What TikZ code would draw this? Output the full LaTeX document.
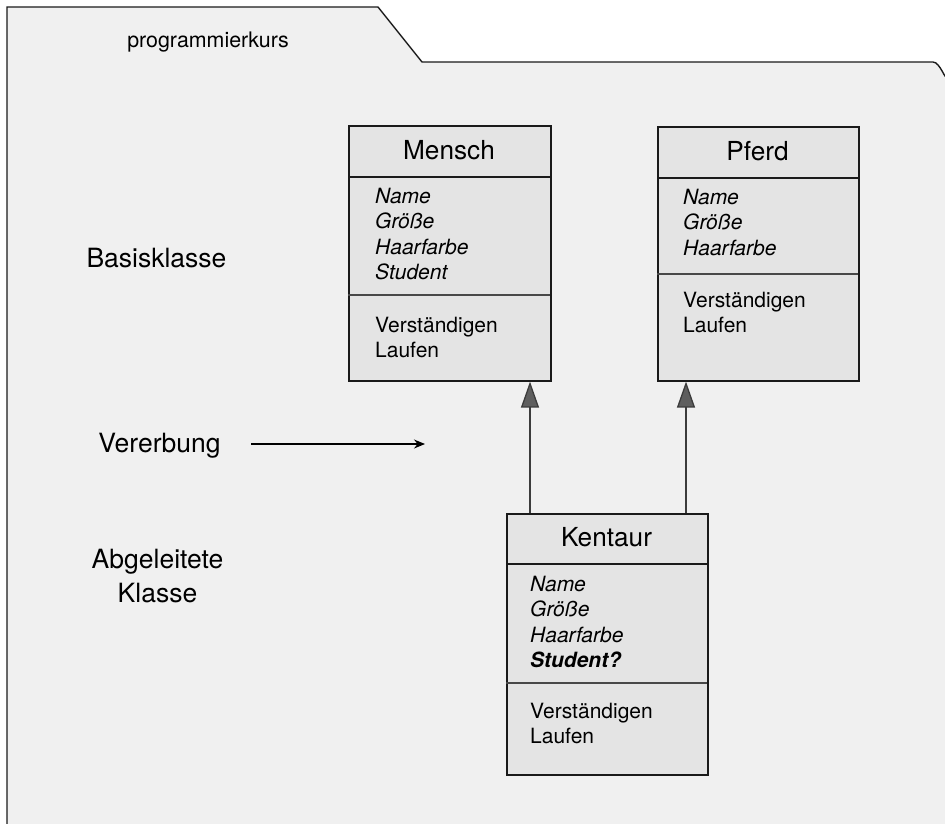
\documentclass[tikz,border=0pt]{standalone}
\usepackage{fontspec}
\setmainfont{TeX Gyre Heros}
\usetikzlibrary{arrows.meta}
\definecolor{pkgfill}{HTML}{F0F0F0}
\definecolor{boxfill}{HTML}{E4E4E4}
\definecolor{tipfill}{HTML}{5E5E5E}
\definecolor{edge}{HTML}{1A1A1A}
\tikzset{
  classbox/.style={draw=edge, fill=boxfill, line width=1.6pt, anchor=north west, inner sep=0pt},
  headline/.style={draw=edge, line width=1.9pt},
  sepline/.style={draw=edge!80, line width=1.2pt},
  classtitle/.style={anchor=base, inner sep=0pt, font=\fontsize{26.2}{30}\selectfont},
  attr/.style={anchor=base west, inner sep=0pt, font=\fontsize{21}{25}\selectfont\itshape},
  keyattr/.style={attr, font=\fontsize{21}{25}\selectfont\bfseries\itshape},
  oper/.style={anchor=base west, inner sep=0pt, font=\fontsize{21}{25}\selectfont},
  sidelabel/.style={anchor=base, inner sep=0pt, align=center, font=\fontsize{26.5}{33.4}\selectfont},
  inherit/.style={draw=edge!85, line width=1.3pt,
    -{Triangle[length=26pt, width=18pt, fill=tipfill]}},
  pointer/.style={draw=black, line width=1.3pt, -{Stealth[length=11pt, width=9pt]}}
}
\begin{document}
\begin{tikzpicture}[x=1pt, y=-1pt]
\useasboundingbox (0,0) rectangle (945,823);
\clip (0,0) rectangle (945,823);

% package frame with its tab
\draw[fill=pkgfill, draw=edge, line width=1.4pt]
  (7,900) -- (7,7) -- (378,7) -- (422,62) -- (933,62)
  to[out=0, in=-90] (946,75) -- (946,900) -- cycle;
\node[anchor=base, inner sep=0pt, font=\fontsize{21.4}{24}\selectfont] (pkg) at (208,47) {programmierkurs};

% class Mensch
\node[classbox, minimum width=202, minimum height=255] (mensch) at (348,125) {};
\draw[headline] (348,177) -- (550,177);
\draw[sepline] (348,295) -- (550,295);
\node[classtitle] (menschT) at (449,159) {Mensch};
\node[attr] (mA1) at (375,203) {Name};
\node[attr] (mA2) at (375,228.5) {Größe};
\node[attr] (mA3) at (375,254) {Haarfarbe};
\node[attr] (mA4) at (375,279.5) {Student};
\node[oper] (mO1) at (375,332) {Verständigen};
\node[oper] (mO2) at (375,357) {Laufen};

% class Pferd
\node[classbox, minimum width=201, minimum height=254] (pferd) at (657,126) {};
\draw[headline] (657,178) -- (858,178);
\draw[sepline] (657,274) -- (858,274);
\node[classtitle] (pferdT) at (757.5,160) {Pferd};
\node[attr] (pA1) at (683,204) {Name};
\node[attr] (pA2) at (683,229.5) {Größe};
\node[attr] (pA3) at (683,255) {Haarfarbe};
\node[oper] (pO1) at (683,307) {Verständigen};
\node[oper] (pO2) at (683,332) {Laufen};

% class Kentaur
\node[classbox, minimum width=201, minimum height=261] (kentaur) at (506,513) {};
\draw[headline] (506,564) -- (707,564);
\draw[sepline] (506,683) -- (707,683);
\node[classtitle] (kentaurT) at (606.5,546) {Kentaur};
\node[attr] (kA1) at (530,591) {Name};
\node[attr] (kA2) at (530,616.5) {Größe};
\node[attr] (kA3) at (530,642) {Haarfarbe};
\node[keyattr] (kA4) at (530,667) {Student?};
\node[oper] (kO1) at (530,718) {Verständigen};
\node[oper] (kO2) at (530,743) {Laufen};

% inheritance connectors
\draw[inherit] (kentaur.north -| 530,0) -- (mensch.south -| 530,0);
\draw[inherit] (kentaur.north -| 686,0) -- (pferd.south -| 686,0);

% side labels
\node[sidelabel] (basis) at (156.5,267) {Basisklasse};
\node[sidelabel] (vererbung) at (159.5,452) {Vererbung};
\node[sidelabel] (abgeleitet) at (157.5,602) {Abgeleitete\\Klasse};

\coordinate (vstart) at (251,444);
\coordinate (vend) at (425,444);
\draw[pointer] (vstart) -- (vend);
\end{tikzpicture}
\end{document}
